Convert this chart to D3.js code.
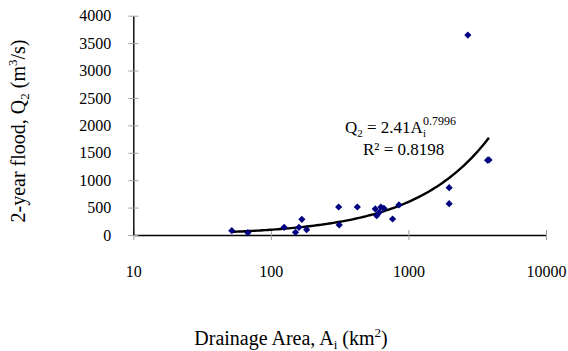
<!DOCTYPE html>
<html>
<head>
<meta charset="utf-8">
<script src="https://cdn.jsdelivr.net/npm/d3@7"></script>
<style>
  body { margin: 0; background: #fff; }
  svg { display: block; }
  svg text { font-family: "Liberation Serif", "Times New Roman", serif; }
</style>
</head>
<body>
<div id="chart"></div>
<script>
// drainage area (km2) and 2-year flood (m3/s)
const AREA = [52, 68, 125, 151, 160, 168, 182, 311, 314, 425, 574, 588, 614, 631, 663, 767, 853, 1977, 1977, 2704, 3763, 3850]
const FLOOD = [79, 42, 140, 49, 140, 286, 97, 511, 183, 511, 475, 352, 414, 511, 487, 292, 548, 864, 572, 3647, 1364, 1370]
const X_TICKS = [10, 100, 1000, 10000]
const Y_TICKS = [0, 500, 1000, 1500, 2000, 2500, 3000, 3500, 4000]
const COEF = 2.41, EXPO = 0.7996

const width = 568, height = 351
const margin = { top: 15.7, right: 22, bottom: 116, left: 133.3 }
const innerW = width - margin.left - margin.right
const innerH = height - margin.top - margin.bottom

const svg = d3.select("#chart").append("svg")
  .attr("width", width)
  .attr("height", height)

const x = d3.scaleLog().domain([10, 10000]).range([margin.left, margin.left + innerW])
const y = d3.scaleLinear().domain([0, 4000]).range([margin.top + innerH, margin.top])

// axes: black lines, gray crossing ticks
const xAxis = svg.append("g")
  .attr("transform", `translate(0,${y(0)})`)
  .call(d3.axisBottom(x).tickValues(X_TICKS).tickSizeInner(5).tickSizeOuter(0).tickFormat(d3.format("d")).tickPadding(26))
  .attr("font-family", null)
xAxis.select(".domain").attr("stroke", "#000").attr("stroke-width", 1.4)
xAxis.selectAll(".tick line").attr("stroke", "#a0a0a0").attr("y1", -5).attr("y2", 5)
xAxis.selectAll("text").attr("font-size", 16).attr("fill", "#000")

const yAxis = svg.append("g")
  .attr("transform", `translate(${x(10)},0)`)
  .call(d3.axisLeft(y).tickValues(Y_TICKS).tickSizeInner(5).tickSizeOuter(0).tickFormat(d3.format("d")).tickPadding(17))
  .attr("font-family", null)
yAxis.select(".domain").attr("stroke", "#000").attr("stroke-width", 1.4)
yAxis.selectAll(".tick line").attr("stroke", "#a0a0a0").attr("x1", -5).attr("x2", 5)
yAxis.selectAll("text").attr("font-size", 16).attr("fill", "#000")

// trend line Q = 2.41 A^0.7996 over data range
const aMin = d3.min(AREA), aMax = d3.max(AREA)
const curve = d3.range(0, 101).map(i => {
  const a = Math.pow(10, Math.log10(aMin) + i / 100 * (Math.log10(aMax) - Math.log10(aMin)))
  return [a, COEF * Math.pow(a, EXPO)]
})
svg.append("path")
  .datum(curve)
  .attr("fill", "none")
  .attr("stroke", "#000")
  .attr("stroke-width", 2.4)
  .attr("d", d3.line().x(d => x(d[0])).y(d => y(d[1])))

// points
const diamond = d3.symbol().type(d3.symbolSquare).size(26)
svg.append("g").selectAll("path")
  .data(AREA.map((a, i) => [a, FLOOD[i]]))
  .join("path")
  .attr("d", diamond)
  .attr("transform", d => `translate(${x(d[0])},${y(d[1])}) rotate(45)`)
  .attr("fill", "#000080")

// equation label
const eq = svg.append("text").attr("x", 345).attr("y", 133).attr("font-size", 17).attr("fill", "#000")
eq.append("tspan").text("Q")
eq.append("tspan").attr("font-size", 11).attr("dy", 4).text("2")
eq.append("tspan").attr("dy", -4).text(" = 2.41A")
eq.append("tspan").attr("font-size", 11).attr("dy", 4).text("i")
eq.append("tspan").attr("font-size", 12).attr("dx", -3).attr("dy", -12).text("0.7996")

svg.append("text").attr("x", 363).attr("y", 155).attr("font-size", 17).attr("fill", "#000")
  .text("R² = 0.8198")

// axis titles
const xt = svg.append("text")
  .attr("x", 291).attr("y", 345)
  .attr("text-anchor", "middle")
  .attr("font-size", 20)
xt.append("tspan").text("Drainage Area, A")
xt.append("tspan").attr("font-size", 13).attr("dy", 4).text("i")
xt.append("tspan").attr("dy", -4).text(" (km")
xt.append("tspan").attr("font-size", 13).attr("dy", -8).text("2")
xt.append("tspan").attr("dy", 8).text(")")

const yt = svg.append("text")
  .attr("transform", "translate(25,131) rotate(-90)")
  .attr("text-anchor", "middle")
  .attr("font-size", 20)
yt.append("tspan").text("2-year flood, Q")
yt.append("tspan").attr("font-size", 13).attr("dy", 4).text("2")
yt.append("tspan").attr("dy", -4).text(" (m")
yt.append("tspan").attr("font-size", 13).attr("dy", -8).text("3")
yt.append("tspan").attr("dy", 8).text("/s)")
</script>
</body>
</html>
